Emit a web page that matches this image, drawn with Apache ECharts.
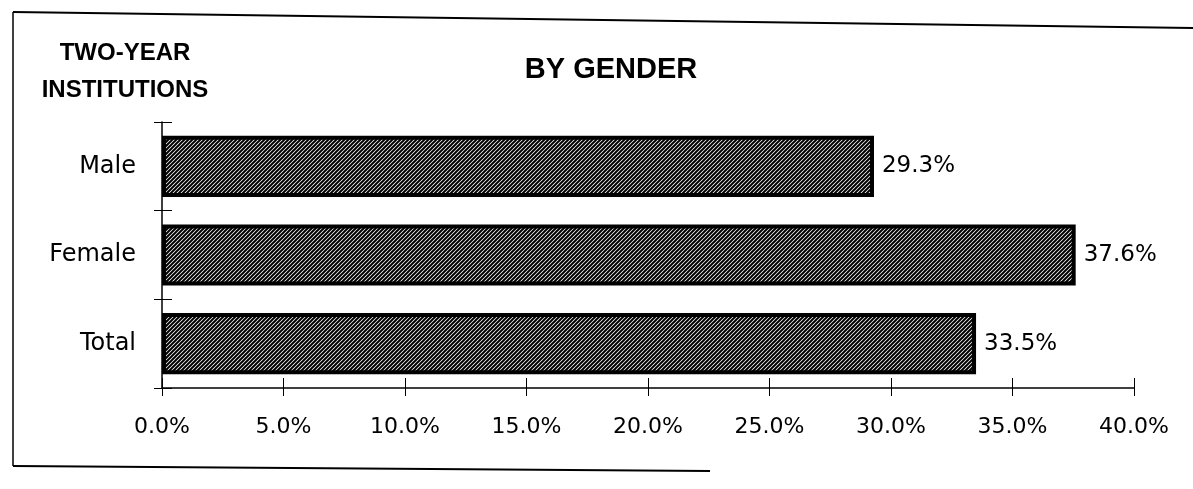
<!DOCTYPE html>
<html>
<head>
<meta charset="utf-8">
<script src="https://cdn.jsdelivr.net/npm/echarts@6/dist/echarts.min.js"></script>
<style>
  html, body { margin: 0; padding: 0; background: #fff; }
  #chart { width: 1193px; height: 489px; }
</style>
</head>
<body>
<div id="chart"></div>
<script>
// data
var categories = ['Male', 'Female', 'Total'];
var shares = [29.3, 37.6, 33.5];
var xTicks = [0, 5, 10, 15, 20, 25, 30, 35, 40];

// diagonal hatch used as bar fill
function hatch() {
  var c = document.createElement('canvas');
  c.width = 4; c.height = 4;
  var ctx = c.getContext('2d');
  ctx.fillStyle = '#fff';
  ctx.fillRect(0, 0, 4, 4);
  ctx.strokeStyle = '#000';
  ctx.lineWidth = 2;
  ctx.beginPath();
  ctx.moveTo(-1, 5); ctx.lineTo(5, -1);
  ctx.moveTo(-1, 1); ctx.lineTo(1, -1);
  ctx.moveTo(3, 5); ctx.lineTo(5, 3);
  ctx.stroke();
  return c;
}

var font = '"DejaVu Sans", sans-serif';
var boldFont = '"Liberation Sans", Arial, sans-serif';
var chart = echarts.init(document.getElementById('chart'));

var xBase = {
  type: 'value',
  position: 'bottom',
  min: xTicks[0],
  max: xTicks[xTicks.length - 1],
  interval: 5,
  splitLine: { show: false }
};
var yBase = {
  type: 'category',
  position: 'left',
  data: categories,
  inverse: true
};

chart.setOption({
  backgroundColor: '#fff',
  animation: false,
  grid: { left: 162, right: 59, top: 122, bottom: 101 },
  graphic: [
    { type: 'line', shape: { x1: 13, y1: 12, x2: 1193, y2: 28 }, style: { stroke: '#000', lineWidth: 2 } },
    { type: 'line', shape: { x1: 13, y1: 12, x2: 13, y2: 466 }, style: { stroke: '#000', lineWidth: 1.5 } },
    { type: 'line', shape: { x1: 13, y1: 466, x2: 710, y2: 471 }, style: { stroke: '#000', lineWidth: 2 } },
    { type: 'text', x: 125, y: 41, style: { text: 'TWO-YEAR', font: 'bold 24px ' + boldFont, fill: '#000', align: 'center' } },
    { type: 'text', x: 125, y: 78, style: { text: 'INSTITUTIONS', font: 'bold 24px ' + boldFont, fill: '#000', align: 'center' } },
    { type: 'text', x: 611, y: 55, style: { text: 'BY GENDER', font: 'bold 29px ' + boldFont, fill: '#000', align: 'center' } }
  ],
  xAxis: [
    Object.assign({}, xBase, {
      axisLine: { show: true, lineStyle: { color: '#000', width: 1.5 } },
      axisTick: { show: true, length: 8, lineStyle: { color: '#000', width: 1 } },
      axisLabel: {
        margin: 28,
        fontFamily: font,
        fontSize: 22,
        color: '#000',
        formatter: function (v) { return v.toFixed(1) + '%'; }
      }
    }),
    Object.assign({}, xBase, {
      axisLine: { show: false },
      axisTick: { show: true, inside: true, length: 10, lineStyle: { color: '#000', width: 1 } },
      axisLabel: { show: false }
    })
  ],
  yAxis: [
    Object.assign({}, yBase, {
      axisLine: { show: true, lineStyle: { color: '#000', width: 1.5 } },
      axisTick: { show: true, length: 8, lineStyle: { color: '#000', width: 1 } },
      axisLabel: { margin: 26, fontFamily: font, fontSize: 24, color: '#000' }
    }),
    Object.assign({}, yBase, {
      axisLine: { show: false },
      axisTick: { show: true, inside: true, length: 10, lineStyle: { color: '#000', width: 1 } },
      axisLabel: { show: false }
    })
  ],
  series: [{
    type: 'bar',
    data: shares,
    barCategoryGap: '31%',
    itemStyle: {
      color: { image: hatch(), repeat: 'repeat' },
      borderColor: '#000',
      borderWidth: 4
    },
    label: {
      show: true,
      position: 'right',
      distance: 8,
      fontFamily: font,
      fontSize: 23,
      color: '#000',
      formatter: function (p) { return p.value.toFixed(1) + '%'; }
    }
  }]
});
</script>
</body>
</html>
